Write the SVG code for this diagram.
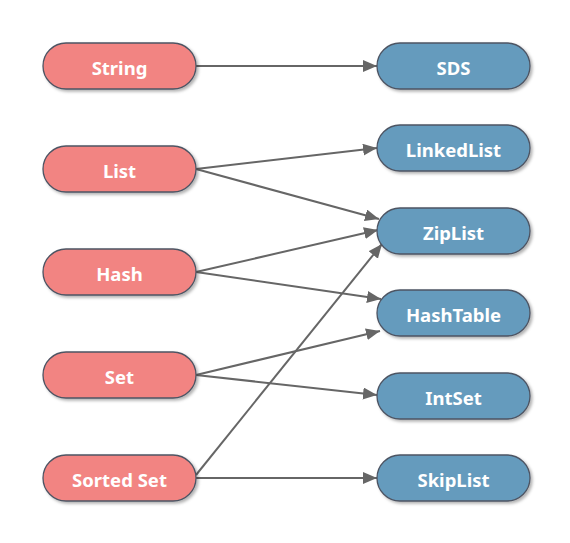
<svg xmlns="http://www.w3.org/2000/svg" width="570" height="543" viewBox="0 0 570 543">
<defs>
<filter id="sh" x="-10%" y="-20%" width="130%" height="150%">
<feDropShadow dx="2" dy="2" stdDeviation="1.5" flood-color="#000" flood-opacity="0.3"/>
</filter>
<marker id="ah" markerUnits="userSpaceOnUse" markerWidth="15" markerHeight="13" refX="14" refY="6" orient="auto">
<path d="M0,0 L14,6 L0,12 z" fill="#666666"/>
</marker>
<style>
.l rect{fill:#F28482;stroke:#4d5463;stroke-width:1.3;filter:url(#sh)}
.r rect{fill:#659BBD;stroke:#4d5463;stroke-width:1.3;filter:url(#sh)}
text{font-family:"Noto Sans","Open Sans",sans-serif;font-weight:bold;font-size:18.5px;fill:#ffffff;text-anchor:middle;dominant-baseline:central}
#edges line{stroke:#666666;stroke-width:2;marker-end:url(#ah)}
</style>
</defs>
<rect width="570" height="543" fill="#ffffff"/>
<g id="edges">
<line x1="196" y1="66" x2="377" y2="66"/>
<line x1="196" y1="169" x2="377" y2="148"/>
<line x1="196" y1="169" x2="379" y2="219"/>
<line x1="196" y1="272" x2="378" y2="230"/>
<line x1="196" y1="272" x2="381" y2="299"/>
<line x1="196" y1="375" x2="380" y2="331"/>
<line x1="196" y1="375" x2="377" y2="395"/>
<line x1="196" y1="475" x2="382" y2="244"/>
<line x1="196" y1="478" x2="377" y2="478"/>
</g>
<g id="n-string" class="l"><rect x="43" y="43" width="153" height="46" rx="23"/><text x="119.5" y="67">String</text></g>
<g id="n-list" class="l"><rect x="43" y="146" width="153" height="46" rx="23"/><text x="119.5" y="170">List</text></g>
<g id="n-hash" class="l"><rect x="43" y="249" width="153" height="46" rx="23"/><text x="119.5" y="273">Hash</text></g>
<g id="n-set" class="l"><rect x="43" y="352" width="153" height="46" rx="23"/><text x="119.5" y="376">Set</text></g>
<g id="n-sortedset" class="l"><rect x="43" y="455" width="153" height="46" rx="23"/><text x="119.5" y="479">Sorted Set</text></g>
<g id="n-sds" class="r"><rect x="377" y="43" width="153" height="46" rx="23"/><text x="453.5" y="67">SDS</text></g>
<g id="n-linkedlist" class="r"><rect x="377" y="125" width="153" height="46" rx="23"/><text x="453.5" y="149">LinkedList</text></g>
<g id="n-ziplist" class="r"><rect x="377" y="208" width="153" height="46" rx="23"/><text x="453.5" y="232">ZipList</text></g>
<g id="n-hashtable" class="r"><rect x="377" y="290" width="153" height="46" rx="23"/><text x="453.5" y="314">HashTable</text></g>
<g id="n-intset" class="r"><rect x="377" y="373" width="153" height="46" rx="23"/><text x="453.5" y="397">IntSet</text></g>
<g id="n-skiplist" class="r"><rect x="377" y="455" width="153" height="46" rx="23"/><text x="453.5" y="479">SkipList</text></g>
</svg>
